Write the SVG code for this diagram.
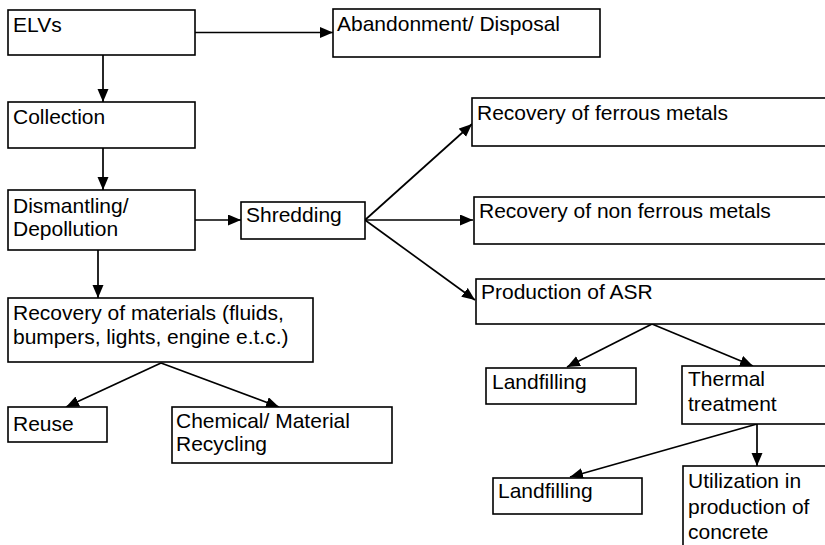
<svg xmlns="http://www.w3.org/2000/svg" width="825" height="545" viewBox="0 0 825 545">
<style>
rect{fill:#fff;stroke:#000;stroke-width:1.6}
text{font-family:"Liberation Sans",Arial,sans-serif;font-size:21px;fill:#000}
.c line{stroke:#000;stroke-width:1.7;marker-end:url(#ah)}
</style>
<defs>
<marker id="ah" markerUnits="userSpaceOnUse" markerWidth="14" markerHeight="12" refX="13" refY="5.5" orient="auto">
<path d="M0,0 L13,5.5 L0,11 Z" fill="#000"/>
</marker>
</defs>
<rect x="0" y="0" width="825" height="545" style="stroke:none"/>
<g class="c" id="connectors">
<line x1="195" y1="32.5" x2="333" y2="32.5"/>
<line x1="103" y1="55" x2="103" y2="102"/>
<line x1="103" y1="148" x2="103" y2="190"/>
<line x1="195" y1="220" x2="241" y2="220"/>
<line x1="98" y1="250" x2="98" y2="298"/>
<line x1="161" y1="363" x2="66" y2="407"/>
<line x1="161" y1="363" x2="279" y2="407"/>
<line x1="365" y1="220" x2="472" y2="124"/>
<line x1="365" y1="220" x2="473" y2="220"/>
<line x1="365" y1="220" x2="475" y2="300"/>
<line x1="652" y1="324" x2="567" y2="367"/>
<line x1="652" y1="324" x2="753" y2="366"/>
<line x1="757" y1="424" x2="757" y2="466"/>
<line x1="757" y1="424" x2="570" y2="477"/>
</g>
<g id="n-elvs"><rect x="8" y="10" width="187" height="45"/><text x="13" y="32">ELVs</text></g>
<g id="n-abandon"><rect x="333" y="9" width="267" height="48"/><text x="337" y="31">Abandonment/ Disposal</text></g>
<g id="n-collection"><rect x="8" y="102" width="187" height="46"/><text x="13" y="124">Collection</text></g>
<g id="n-dismantling"><rect x="8" y="190" width="187" height="60"/><text x="13" y="213">Dismantling/</text><text x="13" y="236">Depollution</text></g>
<g id="n-shredding"><rect x="241" y="202" width="124" height="37"/><text x="246" y="222">Shredding</text></g>
<g id="n-recmat"><rect x="8" y="298" width="305" height="64"/><text x="13" y="320">Recovery of materials (fluids,</text><text x="13" y="344">bumpers, lights, engine e.t.c.)</text></g>
<g id="n-reuse"><rect x="8" y="407" width="99" height="35"/><text x="13" y="431">Reuse</text></g>
<g id="n-chem"><rect x="172" y="407" width="220" height="56"/><text x="176" y="428">Chemical/ Material</text><text x="176" y="451">Recycling</text></g>
<g id="n-ferrous"><rect x="472" y="98" width="360" height="48"/><text x="477" y="120">Recovery of ferrous metals</text></g>
<g id="n-nonferrous"><rect x="474" y="197" width="360" height="47"/><text x="479" y="218">Recovery of non ferrous metals</text></g>
<g id="n-asr"><rect x="476" y="279" width="360" height="45"/><text x="481" y="299">Production of ASR</text></g>
<g id="n-landfill1"><rect x="486" y="368" width="150" height="36"/><text x="492" y="389">Landfilling</text></g>
<g id="n-thermal"><rect x="682" y="366" width="150" height="58"/><text x="688" y="386">Thermal</text><text x="688" y="411">treatment</text></g>
<g id="n-landfill2"><rect x="493" y="478" width="149" height="36"/><text x="498" y="498">Landfilling</text></g>
<g id="n-util"><rect x="683" y="466" width="150" height="90"/><text x="688" y="488">Utilization in</text><text x="688" y="514">production of</text><text x="688" y="539">concrete</text></g>
</svg>
